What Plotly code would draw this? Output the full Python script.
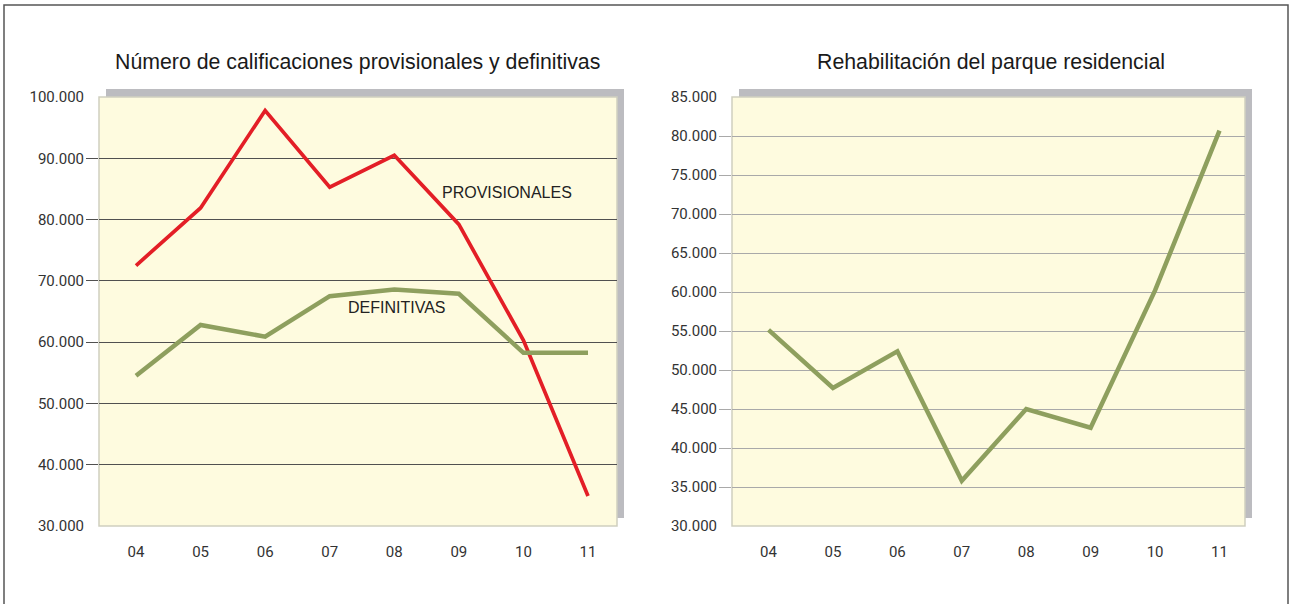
import plotly.graph_objects as go

# ---- data ----
years = ["04", "05", "06", "07", "08", "09", "10", "11"]
provisionales = [72500, 81900, 97800, 85300, 90500, 79200, 60300, 34900]
definitivas = [54500, 62800, 60900, 67500, 68600, 67900, 58250, 58250]
rehabilitacion = [55150, 47700, 52400, 35800, 45000, 42600, 60200, 80700]

left_ticks = [30000, 40000, 50000, 60000, 70000, 80000, 90000, 100000]
left_labels = ["30.000", "40.000", "50.000", "60.000", "70.000", "80.000", "90.000", "100.000"]
right_ticks = [30000, 35000, 40000, 45000, 50000, 55000, 60000, 65000, 70000, 75000, 80000, 85000]
right_labels = ["30.000", "35.000", "40.000", "45.000", "50.000", "55.000", "60.000",
                "65.000", "70.000", "75.000", "80.000", "85.000"]

title_left = "Número de calificaciones provisionales y definitivas"
title_right = "Rehabilitación del parque residencial"

# ---- layout constants ----
W, H = 1290, 604
RED = "#e31e26"
GREEN = "#8e9f5e"
YELLOW = "#fefbdf"
SHADOW = "#bcbcc0"
TICKFONT = dict(family="Liberation Sans Narrow, Arial Narrow, Roboto, sans-serif", size=15, color="#333333")
TITLEFONT = dict(family="Liberation Sans, Arial, sans-serif", size=21.3, color="#1a1a1a")
LABELFONT = dict(family="Liberation Sans, Arial, sans-serif", size=16, color="#222222")

def px_x(v):
    return v / W

def px_y(v):
    return (H - v) / H

L_dom = [px_x(99), px_x(617)]
R_dom = [px_x(732), px_x(1245)]
Y_dom = [px_y(526), px_y(97)]

fig = go.Figure()
fig.add_trace(go.Scatter(x=years, y=provisionales, mode="lines", line=dict(color=RED, width=3.7),
                         xaxis="x", yaxis="y", hoverinfo="skip"))
fig.add_trace(go.Scatter(x=years, y=definitivas, mode="lines", line=dict(color=GREEN, width=4.5),
                         xaxis="x", yaxis="y", hoverinfo="skip"))
fig.add_trace(go.Scatter(x=years, y=rehabilitacion, mode="lines", line=dict(color=GREEN, width=4.5),
                         xaxis="x2", yaxis="y2", hoverinfo="skip"))

def xaxis(dom, rng, anchor):
    return dict(domain=dom, range=rng, anchor=anchor, type="category", showgrid=False,
                zeroline=False, showline=False, ticks="", tickfont=TICKFONT,
                ticklabelstandoff=15, automargin=False, fixedrange=True)

def yaxis(dom, rng, anchor, tv, tt, gridcolor, gw):
    return dict(domain=dom, range=rng, anchor=anchor, tickmode="array", tickvals=tv, ticktext=tt,
                showgrid=False, zeroline=False, showline=False, ticks="", tickfont=TICKFONT,
                ticklabelstandoff=14, automargin=False,
                minor=dict(tickmode="array", tickvals=tv[1:-1], ticks="outside", ticklen=12,
                           tickcolor=gridcolor, tickwidth=gw, showgrid=True,
                           gridcolor=gridcolor, gridwidth=gw),
                fixedrange=True)

shapes = []
for dom in (L_dom, R_dom):
    # shadow
    shapes.append(dict(type="rect", xref="paper", yref="paper", layer="below",
                       x0=dom[0] + 7 / W, x1=dom[1] + 7 / W, y0=Y_dom[0] + 8 / H, y1=Y_dom[1] + 8 / H,
                       fillcolor=SHADOW, line=dict(width=0)))
    # plot area
    shapes.append(dict(type="rect", xref="paper", yref="paper", layer="below",
                       x0=dom[0], x1=dom[1], y0=Y_dom[0], y1=Y_dom[1],
                       fillcolor=YELLOW, line=dict(color="#cfcfc0", width=1.5)))
# outer frame
shapes.append(dict(type="path", xref="paper", yref="paper", layer="above",
                   path=f"M {4/W} -0.05 L {4/W} {px_y(5)} L {1288/W} {px_y(5)} L {1288/W} -0.05",
                   line=dict(color="#555555", width=1.5)))

annotations = [
    dict(text=title_left, xref="paper", yref="paper", x=px_x(357), y=px_y(62), showarrow=False,
         font=TITLEFONT, xanchor="center", yanchor="middle"),
    dict(text=title_right, xref="paper", yref="paper", x=px_x(991), y=px_y(62), showarrow=False,
         font=TITLEFONT, xanchor="center", yanchor="middle"),
    dict(text="PROVISIONALES", xref="paper", yref="paper", x=px_x(507), y=px_y(192.5), showarrow=False,
         font=LABELFONT, xanchor="center", yanchor="middle"),
    dict(text="DEFINITIVAS", xref="paper", yref="paper", x=px_x(397), y=px_y(308), showarrow=False,
         font=LABELFONT, xanchor="center", yanchor="middle"),
]

fig.update_layout(
    width=W, height=H, margin=dict(l=0, r=0, t=0, b=0, pad=0, autoexpand=False),
    paper_bgcolor="white", plot_bgcolor="rgba(0,0,0,0)", showlegend=False,
    xaxis=xaxis(L_dom, [-0.573, 7.449], "y"),
    yaxis=yaxis(Y_dom, [30000, 100000], "x", left_ticks, left_labels, "#505050", 1.3),
    xaxis2=xaxis(R_dom, [-0.567, 7.396], "y2"),
    yaxis2=yaxis(Y_dom, [30000, 85000], "x2", right_ticks, right_labels, "#a9a9a9", 1.4),
    shapes=shapes, annotations=annotations,
)

fig.write_html("out.html", config={"displayModeBar": False},
               post_script="document.body.style.margin='0';document.body.style.overflow='hidden';")
